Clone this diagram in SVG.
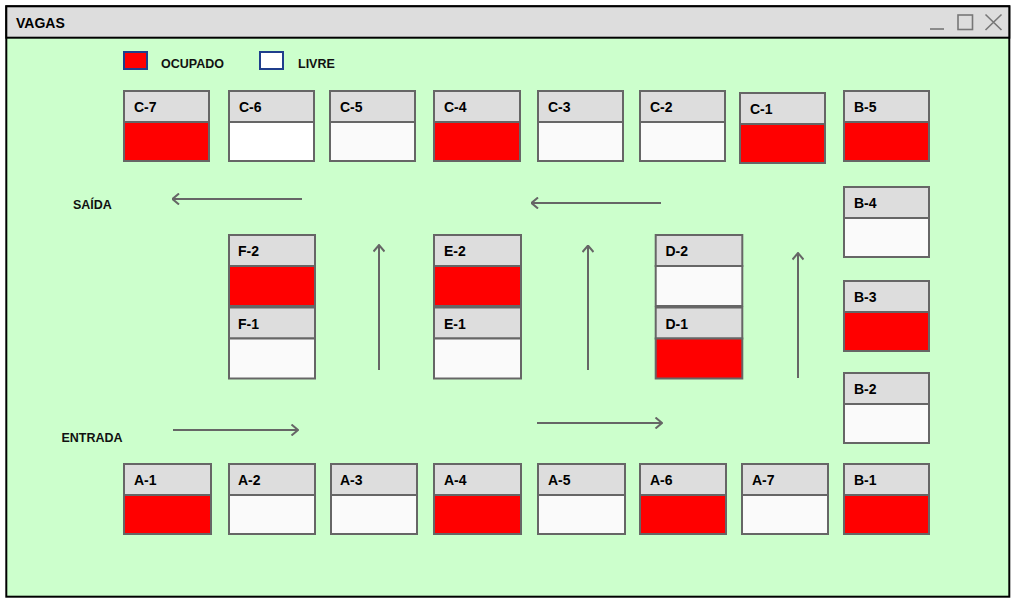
<svg xmlns="http://www.w3.org/2000/svg" width="1019" height="601" viewBox="0 0 1019 601">
<style>
.hd{fill:#dddddd;stroke:#666666;stroke-width:2}
.bd{stroke:#666666;stroke-width:2}
.red{fill:#ff0000}
.wh{fill:#fafafa}
.pw{fill:#ffffff}
.lb{font-family:"Liberation Sans",Arial,sans-serif;font-weight:bold;font-size:14px;fill:#000}
.tx{font-family:"Liberation Sans",Arial,sans-serif;font-weight:bold;font-size:12.5px;fill:#111}
.ar{stroke:#666666;stroke-width:2;fill:none;marker-end:url(#ah)}
.ctl{stroke:#777777;stroke-width:1.6;fill:none}
</style>
<defs>
<marker id="ah" viewBox="0 0 10 12" refX="9" refY="6" markerWidth="10" markerHeight="12" markerUnits="userSpaceOnUse" orient="auto">
<path d="M2.5,0.5 L9,6 L2.5,11.5" fill="none" stroke="#666666" stroke-width="2"/>
</marker>
</defs>
<g id="window">
<rect x="6.3" y="6.3" width="1003" height="590.4" fill="#ccffcc" stroke="#000" stroke-width="2"/>
<rect x="6.3" y="6.3" width="1003" height="31.4" fill="#dddddd" stroke="#000" stroke-width="2"/>
<text x="16" y="28" class="lb">VAGAS</text>
<line x1="930" y1="29" x2="944" y2="29" class="ctl"/>
<rect x="958" y="15" width="14.5" height="14.5" class="ctl"/>
<path d="M985.5,14.5 L1001.5,30 M1001.5,14.5 L985.5,30" class="ctl"/>
</g>
<g id="legend">
<rect x="124" y="52" width="23" height="17" fill="#ff0000" stroke="#1f3e8c" stroke-width="2"/>
<text x="161" y="67.7" class="tx">OCUPADO</text>
<rect x="260" y="52" width="23" height="17" fill="#ffffff" stroke="#1f3e8c" stroke-width="2"/>
<text x="298" y="67.7" class="tx">LIVRE</text>
</g>
<g id="labels">
<text x="73" y="209.3" class="tx">SAÍDA</text>
<text x="61.5" y="441.7" class="tx">ENTRADA</text>
</g>
<g id="C-7"><rect x="124" y="91" width="85" height="31" class="hd"/><rect x="124" y="122" width="85" height="39" class="bd red"/><text x="134" y="112" class="lb">C-7</text></g>
<g id="C-6"><rect x="229" y="91" width="85" height="31" class="hd"/><rect x="229" y="122" width="85" height="39" class="bd pw"/><text x="239" y="112" class="lb">C-6</text></g>
<g id="C-5"><rect x="330" y="91" width="85" height="31" class="hd"/><rect x="330" y="122" width="85" height="39" class="bd wh"/><text x="340" y="112" class="lb">C-5</text></g>
<g id="C-4"><rect x="434" y="91" width="86" height="31" class="hd"/><rect x="434" y="122" width="86" height="39" class="bd red"/><text x="444" y="112" class="lb">C-4</text></g>
<g id="C-3"><rect x="538" y="91" width="85" height="31" class="hd"/><rect x="538" y="122" width="85" height="39" class="bd wh"/><text x="548" y="112" class="lb">C-3</text></g>
<g id="C-2"><rect x="640" y="91" width="85" height="31" class="hd"/><rect x="640" y="122" width="85" height="39" class="bd wh"/><text x="650" y="112" class="lb">C-2</text></g>
<g id="C-1"><rect x="740" y="93" width="85" height="31" class="hd"/><rect x="740" y="124" width="85" height="39" class="bd red"/><text x="750" y="114" class="lb">C-1</text></g>
<g id="B-5"><rect x="844" y="91" width="85" height="31" class="hd"/><rect x="844" y="122" width="85" height="39" class="bd red"/><text x="854" y="112" class="lb">B-5</text></g>
<g id="B-4"><rect x="844" y="187" width="85" height="31" class="hd"/><rect x="844" y="218" width="85" height="39" class="bd wh"/><text x="854" y="208" class="lb">B-4</text></g>
<g id="B-3"><rect x="844" y="281" width="85" height="31" class="hd"/><rect x="844" y="312" width="85" height="39" class="bd red"/><text x="854" y="302" class="lb">B-3</text></g>
<g id="B-2"><rect x="844" y="373" width="85" height="31" class="hd"/><rect x="844" y="404" width="85" height="39" class="bd wh"/><text x="854" y="394" class="lb">B-2</text></g>
<g id="B-1"><rect x="844" y="464" width="85" height="31" class="hd"/><rect x="844" y="495" width="85" height="39" class="bd red"/><text x="854" y="485" class="lb">B-1</text></g>
<g id="A-1"><rect x="124" y="464" width="87" height="31" class="hd"/><rect x="124" y="495" width="87" height="39" class="bd red"/><text x="134" y="485" class="lb">A-1</text></g>
<g id="A-2"><rect x="229" y="464" width="86" height="31" class="hd"/><rect x="229" y="495" width="86" height="39" class="bd wh"/><text x="238" y="485" class="lb">A-2</text></g>
<g id="A-3"><rect x="331" y="464" width="86" height="31" class="hd"/><rect x="331" y="495" width="86" height="39" class="bd wh"/><text x="340" y="485" class="lb">A-3</text></g>
<g id="A-4"><rect x="434" y="464" width="87" height="31" class="hd"/><rect x="434" y="495" width="87" height="39" class="bd red"/><text x="444" y="485" class="lb">A-4</text></g>
<g id="A-5"><rect x="538" y="464" width="87" height="31" class="hd"/><rect x="538" y="495" width="87" height="39" class="bd wh"/><text x="548" y="485" class="lb">A-5</text></g>
<g id="A-6"><rect x="640" y="464" width="86" height="31" class="hd"/><rect x="640" y="495" width="86" height="39" class="bd red"/><text x="650" y="485" class="lb">A-6</text></g>
<g id="A-7"><rect x="742" y="464" width="86" height="31" class="hd"/><rect x="742" y="495" width="86" height="39" class="bd wh"/><text x="752" y="485" class="lb">A-7</text></g>
<g id="F-2"><rect x="229" y="235" width="86" height="31" class="hd"/><rect x="229" y="266" width="86" height="40" class="bd red"/><text x="238" y="256" class="lb">F-2</text></g>
<g id="F-1"><rect x="229" y="307.5" width="86" height="31" class="hd"/><rect x="229" y="338.5" width="86" height="40" class="bd wh"/><text x="238" y="329" class="lb">F-1</text></g>
<g id="E-2"><rect x="434" y="235" width="87" height="31" class="hd"/><rect x="434" y="266" width="87" height="40" class="bd red"/><text x="444" y="256" class="lb">E-2</text></g>
<g id="E-1"><rect x="434" y="307.5" width="87" height="31" class="hd"/><rect x="434" y="338.5" width="87" height="40" class="bd wh"/><text x="444" y="329" class="lb">E-1</text></g>
<g id="D-2"><rect x="655.7" y="235" width="86.6" height="31" class="hd"/><rect x="655.7" y="266" width="86.6" height="40" class="bd wh"/><text x="665.5" y="256" class="lb">D-2</text></g>
<g id="D-1"><rect x="655.7" y="307.5" width="86.6" height="31" class="hd"/><rect x="655.7" y="338.5" width="86.6" height="40" class="bd red"/><text x="665.5" y="329" class="lb">D-1</text></g>
<g id="connectors">
<line x1="302" y1="199" x2="172.5" y2="199" class="ar"/>
<line x1="661" y1="203" x2="531.5" y2="203" class="ar"/>
<line x1="379" y1="370" x2="379" y2="245" class="ar"/>
<line x1="588" y1="370" x2="588" y2="245.5" class="ar"/>
<line x1="798" y1="378" x2="798" y2="253" class="ar"/>
<line x1="173" y1="430" x2="298" y2="430" class="ar"/>
<line x1="537" y1="423" x2="662" y2="423" class="ar"/>
</g>
</svg>
